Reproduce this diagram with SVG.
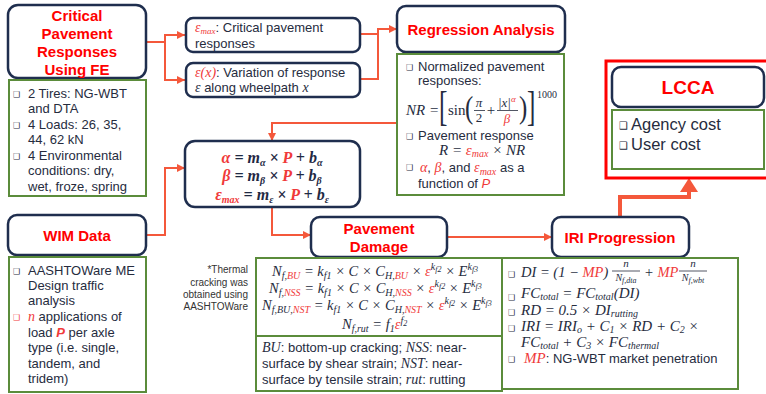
<svg xmlns="http://www.w3.org/2000/svg" width="766" height="394" viewBox="0 0 766 394">
<defs>
<style>
.nv{fill:#fff;stroke:#1f2e4e;stroke-width:2.5}
.gr{fill:#fff;stroke:#5b8c3b;stroke-width:2}
.t{font-family:"Liberation Sans",Arial,sans-serif;font-size:13px;fill:#262c3e}
.h{font-family:"Liberation Sans",Arial,sans-serif;font-size:15px;font-weight:bold;fill:#ff0000;text-anchor:middle}
.bl{font-family:"DejaVu Sans",sans-serif;font-size:8px;fill:#262c3e}
.m{font-family:"Liberation Serif","Times New Roman",serif;font-style:italic;font-size:14px;fill:#262c3e}
.u{font-family:"Liberation Serif","Times New Roman",serif;font-style:normal;fill:#262c3e}
.eq{font-family:"Liberation Serif","Times New Roman",serif;font-style:italic;font-weight:bold;font-size:16px;fill:#1f2a44;text-anchor:middle}
.r{fill:#f03a3a}
.s{font-size:10px}
.xs{font-size:8px}
.c{fill:none;stroke:#f4583b;stroke-width:2}
.n{font-family:"Liberation Sans",Arial,sans-serif;font-size:10px;fill:#333;text-anchor:end}
</style>
<marker id="ah" markerWidth="8" markerHeight="8" refX="8" refY="4" orient="auto" markerUnits="userSpaceOnUse"><path d="M0,0 L8,4 L0,8 z" fill="#f4583b"/></marker>
</defs>
<rect width="766" height="394" fill="#fff"/>

<g id="connectors">
<path class="c" d="M146,42 H165 V35 H185" marker-end="url(#ah)"/>
<path class="c" d="M165,42 V80 H185" marker-end="url(#ah)"/>
<path class="c" d="M360,34 H378 V29 H397" marker-end="url(#ah)"/>
<path class="c" d="M360,79 H378 V34"/>
<path class="c" d="M397,123 H272 V141" marker-end="url(#ah)"/>
<path class="c" d="M146,235 H165 V168 H185" marker-end="url(#ah)"/>
<path class="c" d="M272,207 V235 H311" marker-end="url(#ah)"/>
<path class="c" d="M447,237 H552" marker-end="url(#ah)"/>
<path d="M620,217 V197 H689 V190" fill="none" stroke="#f4583b" stroke-width="4"/>
<polygon points="680,192 698,192 689,178" fill="#f4583b"/>
</g>

<g id="critical">
<rect class="nv" x="8" y="5" width="138" height="73" rx="10"/>
<text class="h"><tspan x="77" y="21">Critical</tspan><tspan x="77" y="39">Pavement</tspan><tspan x="77" y="57">Responses</tspan><tspan x="77" y="75">Using FE</tspan></text>
</g>
<g id="critical-list">
<rect class="gr" x="9" y="80" width="137" height="116"/>
<text class="bl"><tspan x="13" y="97">❑</tspan><tspan x="13" y="128">❑</tspan><tspan x="13" y="159">❑</tspan></text>
<text class="t"><tspan x="28" y="98">2 Tires: NG-WBT</tspan><tspan x="28" y="113">and DTA</tspan><tspan x="28" y="129">4 Loads: 26, 35,</tspan><tspan x="28" y="144">44, 62 kN</tspan><tspan x="28" y="160">4 Environmental</tspan><tspan x="28" y="175">conditions: dry,</tspan><tspan x="28" y="191">wet, froze, spring</tspan></text>
</g>

<g id="emax">
<rect class="nv" x="186" y="18" width="174" height="34" rx="7"/>
<text class="t" x="195" y="32"><tspan class="m r" style="font-size:14px">ε<tspan style="font-size:9px" dy="2">max</tspan></tspan><tspan dy="-2">: Critical pavement</tspan></text>
<text class="t" x="195" y="48">responses</text>
</g>
<g id="ex">
<rect class="nv" x="186" y="63" width="174" height="34" rx="7"/>
<text class="t" x="195" y="77"><tspan class="m r">ε(x)</tspan>: Variation of response</text>
<text class="t" x="195" y="92"><tspan class="m">ε</tspan> along wheelpath <tspan class="m">x</tspan></text>
</g>

<g id="regression">
<rect class="nv" x="397" y="6" width="168" height="46" rx="9"/>
<text class="h" x="481" y="35">Regression Analysis</text>
</g>
<g id="regression-list">
<rect class="gr" x="397" y="54" width="167" height="141"/>
<text class="bl"><tspan x="406" y="70">❑</tspan><tspan x="406" y="139">❑</tspan><tspan x="406" y="170">❑</tspan></text>
<text class="t"><tspan x="418" y="71">Normalized pavement</tspan><tspan x="418" y="85">responses:</tspan></text>
<text class="m" x="406" y="115" style="font-size:15px">NR =</text>
<text class="u" style="font-size:42px" transform="translate(439,120) scale(0.6,1)">[</text>
<text class="u" x="448" y="115" style="font-size:15px">sin</text>
<text class="u" style="font-size:31px" transform="translate(465,118) scale(0.8,1)">(</text>
<text class="m" x="479" y="107" style="font-size:13px" text-anchor="middle">π</text>
<line x1="474" y1="110.5" x2="485" y2="110.5" stroke="#262c3e" stroke-width="0.8"/>
<text class="u" x="479" y="122" style="font-size:13px" text-anchor="middle">2</text>
<text class="u" x="491" y="115" style="font-size:15px" text-anchor="middle">+</text>
<text class="m" x="498" y="107" style="font-size:13px">|x|</text>
<text class="m r" x="511" y="102" style="font-size:9px">α</text>
<line x1="497" y1="110.5" x2="518" y2="110.5" stroke="#262c3e" stroke-width="0.8"/>
<text class="m r" x="507" y="123" style="font-size:13px" text-anchor="middle">β</text>
<text class="u" style="font-size:31px" transform="translate(519,118) scale(0.8,1)">)</text>
<text class="u" style="font-size:42px" transform="translate(527,120) scale(0.6,1)">]</text>
<text class="u" x="537" y="98" style="font-size:10px">1000</text>
<text class="t" x="418" y="140">Pavement response</text>
<text class="m" x="439" y="155" style="font-size:15px">R = <tspan class="r">ε<tspan style="font-size:10px" dy="2">max</tspan></tspan><tspan dy="-2"> × NR</tspan></text>
<text class="t" x="420" y="172"><tspan class="m r">α</tspan>, <tspan class="m r">β</tspan>, and <tspan class="m r">ε<tspan style="font-size:10px" dy="3">max</tspan></tspan><tspan dy="-3"> as a</tspan></text>
<text class="t" x="418" y="188">function of <tspan class="r" style="font-style:italic">P</tspan></text>
</g>

<g id="lcca">
<rect x="606" y="61" width="170" height="117" fill="#fff" stroke="#ff0000" stroke-width="3"/>
<rect class="nv" x="612" y="67" width="152" height="40" rx="9"/>
<text class="h" x="688" y="94" style="font-size:19px">LCCA</text>
<rect class="gr" x="612" y="110" width="152" height="59"/>
<text class="bl" style="font-size:10px"><tspan x="619" y="129">❑</tspan><tspan x="619" y="149">❑</tspan></text>
<text class="t" style="font-size:16.5px"><tspan x="631" y="130">Agency cost</tspan><tspan x="631" y="150">User cost</tspan></text>
</g>

<g id="equations">
<rect class="nv" x="185" y="141" width="175" height="66" rx="10"/>
<text class="eq" x="272" y="163"><tspan class="r">α</tspan> = m<tspan class="s" dy="3">α</tspan><tspan dy="-3"> × </tspan><tspan class="r">P</tspan> + b<tspan class="s" dy="3">α</tspan></text>
<text class="eq" x="272" y="181"><tspan class="r">β</tspan> = m<tspan class="s" dy="3">β</tspan><tspan dy="-3"> × </tspan><tspan class="r">P</tspan> + b<tspan class="s" dy="3">β</tspan></text>
<text class="eq" x="272" y="200"><tspan class="r">ε<tspan class="s" dy="3">max</tspan></tspan><tspan dy="-3"> = m</tspan><tspan class="s" dy="3">ε</tspan><tspan dy="-3"> × </tspan><tspan class="r">P</tspan> + b<tspan class="s" dy="3">ε</tspan></text>
</g>

<g id="wim">
<rect class="nv" x="8" y="215" width="138" height="40" rx="9"/>
<text class="h" x="77" y="241">WIM Data</text>
</g>
<g id="wim-list">
<rect class="gr" x="9" y="257" width="137" height="135"/>
<text class="bl"><tspan x="13" y="274">❑</tspan><tspan class="r" x="13" y="320">❑</tspan></text>
<text class="t"><tspan x="28" y="275">AASHTOWare ME</tspan><tspan x="28" y="290">Design traffic</tspan><tspan x="28" y="305">analysis</tspan><tspan x="28" y="321"><tspan class="m r">n</tspan> applications of</tspan><tspan x="28" y="337">load <tspan class="r" style="font-weight:bold;font-style:italic">P</tspan> per axle</tspan><tspan x="28" y="352">type (i.e. single,</tspan><tspan x="28" y="368">tandem, and</tspan><tspan x="28" y="383">tridem)</tspan></text>
</g>

<g id="damage">
<rect class="nv" x="311" y="217" width="136" height="40" rx="9"/>
<text class="h"><tspan x="379" y="234">Pavement</tspan><tspan x="379" y="252">Damage</tspan></text>
</g>
<g id="damage-list">
<rect class="gr" x="256" y="258" width="246" height="133"/>
<line x1="256" y1="336" x2="502" y2="336" stroke="#5b8c3b" stroke-width="2"/>
<text class="m" x="272" y="276" style="font-size:14.5px">N<tspan class="s" dy="3">f,<tspan class="r">BU</tspan></tspan><tspan dy="-3"> = k</tspan><tspan class="s" dy="3">f1</tspan><tspan dy="-3"> × C × C</tspan><tspan class="s" dy="3">H,<tspan class="r">BU</tspan></tspan><tspan dy="-3"> × </tspan><tspan class="r">ε</tspan><tspan class="s" dy="-6">k</tspan><tspan class="xs" dy="2">f2</tspan><tspan dy="4"> × E</tspan><tspan class="s" dy="-6">k</tspan><tspan class="xs" dy="2">f3</tspan></text>
<text class="m" x="269" y="293" style="font-size:14.5px">N<tspan class="s" dy="3">f,<tspan class="r">NSS</tspan></tspan><tspan dy="-3"> = k</tspan><tspan class="s" dy="3">f1</tspan><tspan dy="-3"> × C × C</tspan><tspan class="s" dy="3">H,<tspan class="r">NSS</tspan></tspan><tspan dy="-3"> × </tspan><tspan class="r">ε</tspan><tspan class="s" dy="-6">k</tspan><tspan class="xs" dy="2">f2</tspan><tspan dy="4"> × E</tspan><tspan class="s" dy="-6">k</tspan><tspan class="xs" dy="2">f3</tspan></text>
<text class="m" x="262" y="310" style="font-size:14.5px">N<tspan class="s" dy="3">f,BU,<tspan class="r">NST</tspan></tspan><tspan dy="-3"> = k</tspan><tspan class="s" dy="3">f1</tspan><tspan dy="-3"> × C × C</tspan><tspan class="s" dy="3">H,<tspan class="r">NST</tspan></tspan><tspan dy="-3"> × </tspan><tspan class="r">ε</tspan><tspan class="s" dy="-6">k</tspan><tspan class="xs" dy="2">f2</tspan><tspan dy="4"> × E</tspan><tspan class="s" dy="-6">k</tspan><tspan class="xs" dy="2">f3</tspan></text>
<text class="m" x="342" y="329" style="font-size:14.5px">N<tspan class="s" dy="3">f,rut</tspan><tspan dy="-3"> = f</tspan><tspan class="s" dy="3">1</tspan><tspan class="r" dy="-3">ε</tspan><tspan class="s" dy="-5">f</tspan><tspan class="xs" dy="2">2</tspan></text>
<text class="t" x="262" y="352"><tspan class="m">BU</tspan>: bottom-up cracking; <tspan class="m">NSS</tspan>: near-</text>
<text class="t" x="262" y="368">surface by shear strain; <tspan class="m">NST</tspan>: near-</text>
<text class="t" x="262" y="384">surface by tensile strain; <tspan class="m">rut</tspan>: rutting</text>
</g>

<g id="note">
<text class="n"><tspan x="248" y="273">*Thermal</tspan><tspan x="248" y="286">cracking was</tspan><tspan x="248" y="298">obtained using</tspan><tspan x="248" y="310">AASHTOWare</tspan></text>
</g>

<g id="iri">
<rect class="nv" x="552" y="217" width="137" height="40" rx="9"/>
<text class="h" x="620" y="243">IRI Progression</text>
</g>
<g id="iri-list">
<rect class="gr" x="502" y="258" width="236" height="131"/>
<text class="bl"><tspan x="508" y="277">❑</tspan><tspan x="508" y="300">❑</tspan><tspan x="508" y="315">❑</tspan><tspan x="508" y="331">❑</tspan><tspan x="508" y="362">❑</tspan></text>
<text class="m" x="521" y="277" style="font-size:14.5px">DI = (1 − <tspan class="r">MP</tspan>)</text>
<text class="m" x="626" y="267" style="font-size:11px" text-anchor="middle">n</text>
<line x1="612" y1="271" x2="640" y2="271" stroke="#262c3e" stroke-width="0.8"/>
<text class="m" x="626" y="281" style="font-size:10px" text-anchor="middle">N<tspan style="font-size:8px" dy="2">f,dta</tspan></text>
<text class="m" x="644" y="277" style="font-size:14.5px">+ <tspan class="r">MP</tspan></text>
<text class="m" x="693" y="267" style="font-size:11px" text-anchor="middle">n</text>
<line x1="679" y1="271" x2="707" y2="271" stroke="#262c3e" stroke-width="0.8"/>
<text class="m" x="693" y="281" style="font-size:10px" text-anchor="middle">N<tspan style="font-size:8px" dy="2">f,wbt</tspan></text>
<text class="m" x="521" y="298" style="font-size:15px">FC<tspan class="s" dy="2">total</tspan><tspan dy="-2"> = FC</tspan><tspan class="s" dy="2">total</tspan><tspan dy="-2">(DI)</tspan></text>
<text class="m" x="521" y="315" style="font-size:15px">RD = 0.5 × DI<tspan class="s" dy="2">rutting</tspan></text>
<text class="m" x="521" y="331" style="font-size:15px">IRI = IRI<tspan class="s" dy="2">o</tspan><tspan dy="-2"> + C</tspan><tspan class="s" dy="2">1</tspan><tspan dy="-2"> × RD + C</tspan><tspan class="s" dy="2">2</tspan><tspan dy="-2"> ×</tspan></text>
<text class="m" x="521" y="347" style="font-size:15px">FC<tspan class="s" dy="2">total</tspan><tspan dy="-2"> + C</tspan><tspan class="s" dy="2">3</tspan><tspan dy="-2"> × FC</tspan><tspan class="s" dy="2">thermal</tspan></text>
<text class="t" x="524" y="363"><tspan class="m r" style="font-size:15px">MP</tspan>: NG-WBT market penetration</text>
</g>
</svg>
